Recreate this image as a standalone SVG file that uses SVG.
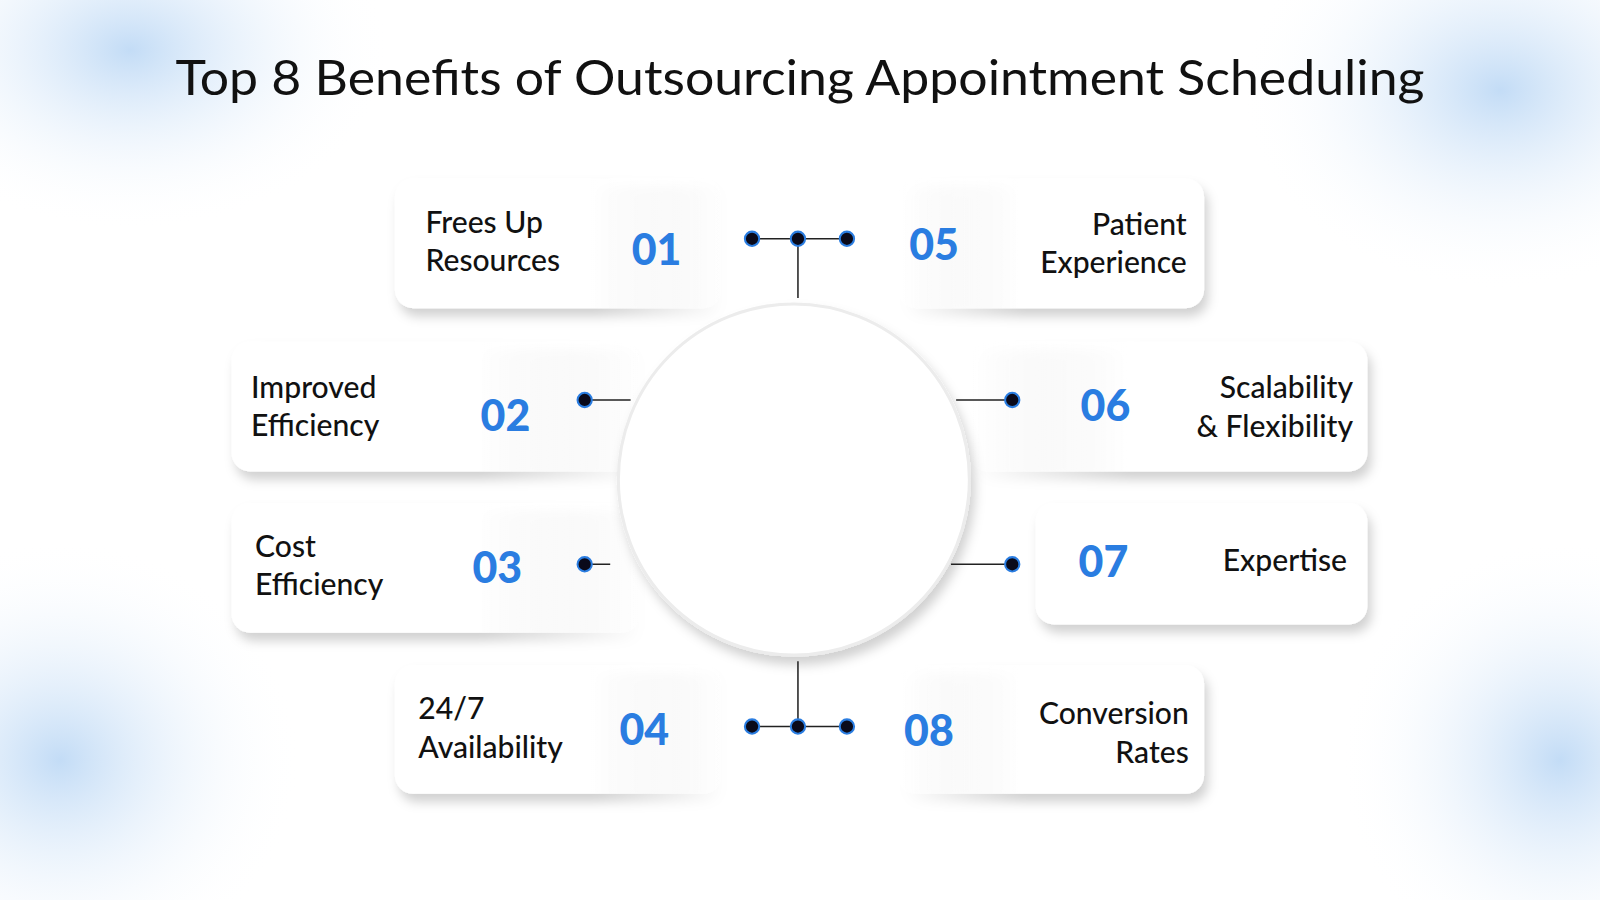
<svg xmlns="http://www.w3.org/2000/svg" width="1600" height="900" viewBox="0 0 1600 900">
<defs>
<style>
.t{font-family:Lato,"Open Sans",sans-serif;font-size:29.5px;fill:#111;font-weight:500}
.n{font-family:Lato,"Open Sans",sans-serif;font-size:42px;fill:#2a7de1;font-weight:900}
.ln{stroke:#222;stroke-width:1.5;fill:none}
.dot{fill:#0a0a1a;stroke:#2a7de1;stroke-width:2}
</style>
<radialGradient id="bl" cx="0.5" cy="0.5" r="0.5"><stop offset="0" stop-color="#c3dcf6"/><stop offset="1" stop-color="#ffffff" stop-opacity="0"/></radialGradient>
<linearGradient id="fl" x1="0" x2="1"><stop offset="0.6" stop-color="#fff"/><stop offset="1" stop-color="#fff" stop-opacity="0"/></linearGradient>
<linearGradient id="fr" x1="1" x2="0"><stop offset="0.6" stop-color="#fff"/><stop offset="1" stop-color="#fff" stop-opacity="0"/></linearGradient>
<filter id="sh" x="-20%" y="-20%" width="140%" height="150%"><feDropShadow dx="4" dy="8" stdDeviation="5" flood-color="#000" flood-opacity="0.18"/></filter>
</defs>
<rect width="1600" height="900" fill="#fff"/>
<ellipse cx="130" cy="50" rx="260" ry="180" fill="url(#bl)"/>
<ellipse cx="1500" cy="90" rx="260" ry="200" fill="url(#bl)"/>
<ellipse cx="60" cy="760" rx="240" ry="220" fill="url(#bl)"/>
<ellipse cx="1560" cy="760" rx="220" ry="220" fill="url(#bl)"/>
<g transform="scale(1.0204)">
<text x="172" y="93" textLength="1224" lengthAdjust="spacingAndGlyphs" font-family="Lato,'Open Sans',sans-serif" font-size="47" fill="#111">Top 8 Benefits of Outsourcing Appointment Scheduling</text>
<g id="n01"><rect x="387" y="175" width="320" height="127" rx="18" fill="url(#fl)" filter="url(#sh)"/><text class="t" x="417" y="228">Frees Up</text><text class="t" x="417" y="266">Resources</text><text class="n" x="619" y="260">01</text></g>
<g id="n05"><rect x="880" y="175" width="300" height="127" rx="18" fill="url(#fr)" filter="url(#sh)"/><text class="n" x="891" y="255">05</text><text class="t" x="1163" y="230" text-anchor="end">Patient</text><text class="t" x="1163" y="268" text-anchor="end">Experience</text></g>
<g id="n02"><rect x="227" y="335" width="400" height="127" rx="18" fill="url(#fl)" filter="url(#sh)"/><text class="t" x="246" y="390">Improved</text><text class="t" x="246" y="427">Efficiency</text><text class="n" x="471" y="422">02</text></g>
<g id="n06"><rect x="950" y="335" width="390" height="127" rx="18" fill="url(#fr)" filter="url(#sh)"/><text class="n" x="1059" y="413">06</text><text class="t" x="1326" y="390" text-anchor="end">Scalability</text><text class="t" x="1326" y="428" text-anchor="end">&amp; Flexibility</text></g>
<g id="n03"><rect x="227" y="493" width="400" height="127" rx="18" fill="url(#fl)" filter="url(#sh)"/><text class="t" x="250" y="546">Cost</text><text class="t" x="250" y="583">Efficiency</text><text class="n" x="463" y="571">03</text></g>
<g id="n07"><rect x="1015" y="493" width="325" height="119" rx="18" fill="#fff" filter="url(#sh)"/><text class="n" x="1057" y="565">07</text><text class="t" x="1320" y="560" text-anchor="end">Expertise</text></g>
<g id="n04"><rect x="387" y="652" width="320" height="126" rx="18" fill="url(#fl)" filter="url(#sh)"/><text class="t" x="410" y="705">24/7</text><text class="t" x="410" y="743">Availability</text><text class="n" x="607" y="730">04</text></g>
<g id="n08"><rect x="880" y="652" width="300" height="126" rx="18" fill="url(#fr)" filter="url(#sh)"/><text class="n" x="886" y="731">08</text><text class="t" x="1165" y="710" text-anchor="end">Conversion</text><text class="t" x="1165" y="748" text-anchor="end">Rates</text></g>
<g id="center"><circle cx="778" cy="470" r="172" fill="#fff" stroke="#ececec" stroke-width="3" filter="url(#sh)"/></g>
<g id="connectors">
<path class="ln" d="M737 234H830M782 234V292M737 712H830M782 712V648M573 392H618M937 392H992M573 553H598M932 553H992"/>
<circle class="dot" cx="737" cy="234" r="7"/><circle class="dot" cx="782" cy="234" r="7"/><circle class="dot" cx="830" cy="234" r="7"/>
<circle class="dot" cx="737" cy="712" r="7"/><circle class="dot" cx="782" cy="712" r="7"/><circle class="dot" cx="830" cy="712" r="7"/>
<circle class="dot" cx="573" cy="392" r="7"/><circle class="dot" cx="992" cy="392" r="7"/><circle class="dot" cx="573" cy="553" r="7"/><circle class="dot" cx="992" cy="553" r="7"/>
</g>
</g>
</svg>
